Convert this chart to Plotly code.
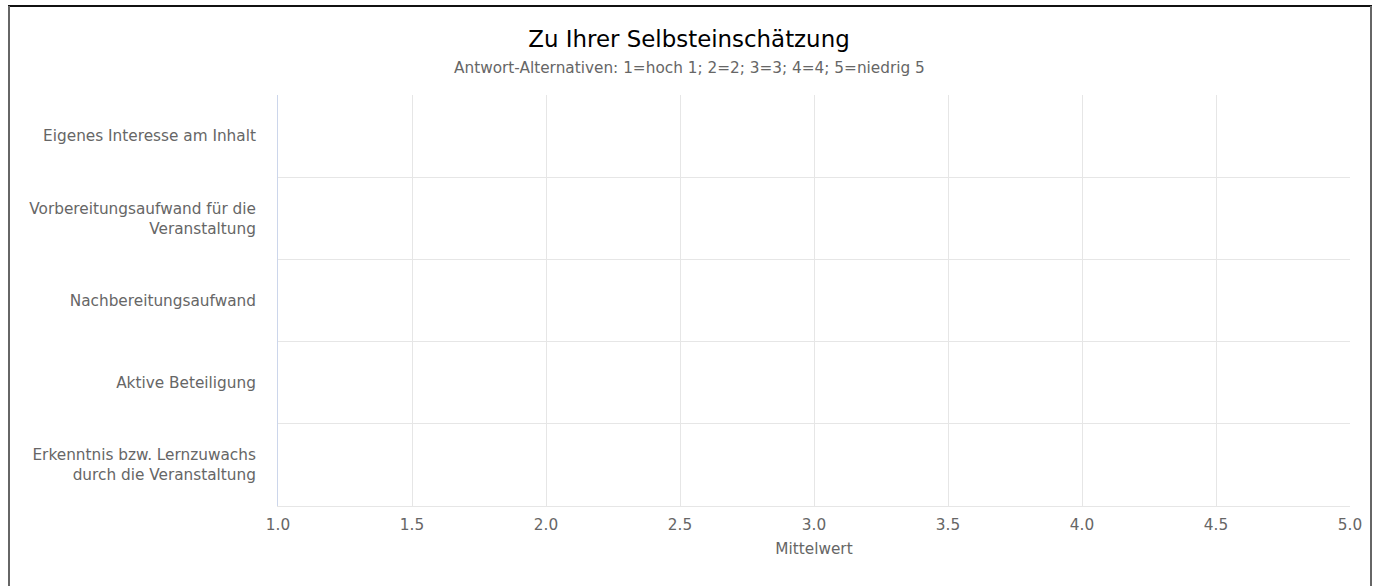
import plotly.graph_objects as go

categories = [
    "Eigenes Interesse am Inhalt",
    "Vorbereitungsaufwand für die<br>Veranstaltung",
    "Nachbereitungsaufwand",
    "Aktive Beteiligung",
    "Erkenntnis bzw. Lernzuwachs<br>durch die Veranstaltung",
]
means = [None, None, None, None, None]
x_ticks = [1.0, 1.5, 2.0, 2.5, 3.0, 3.5, 4.0, 4.5, 5.0]

W, H = 1377, 586
L, R, T, B = 278, 27, 95, 80
pw, ph = W - L - R, H - T - B


def px(x):
    return (x - L) / pw


def py(y):
    return 1 - (y - T) / ph


fig = go.Figure()
fig.add_trace(go.Bar(y=categories, x=means, orientation="h", marker_color="#7cb5ec", showlegend=False))

font = "DejaVu Sans, sans-serif"
fs = 15.3
fig.update_layout(
    width=W, height=H,
    margin=dict(l=L, r=R, t=T, b=B),
    paper_bgcolor="white", plot_bgcolor="white",
    font=dict(family=font, color="#666666", size=fs),
    title=dict(text="Zu Ihrer Selbsteinschätzung", x=689 / W, xref="container", xanchor="center",
               y=1 - 38.5 / H, yref="container", yanchor="middle",
               font=dict(size=22.9, color="#000000", family=font)),
    xaxis=dict(range=[1, 5], tickvals=x_ticks, ticktext=[f"{v:.1f}" for v in x_ticks],
               showgrid=True, gridcolor="#e6e6e6", gridwidth=1, zeroline=False,
               showline=True, linecolor="#e6e6e6", linewidth=1,
               ticks="", ticklabelstandoff=5,
               tickfont=dict(size=fs, color="#666666"),
               title=dict(text="Mittelwert", font=dict(size=fs, color="#666666"), standoff=9)),
    yaxis=dict(type="category", categoryorder="array", categoryarray=categories,
               range=[4.5, -0.5], tickson="boundaries",
               showgrid=True, gridcolor="#e6e6e6", gridwidth=1, zeroline=False,
               showline=True, linecolor="#ccd6eb", linewidth=1,
               ticks="", ticklabelstandoff=18,
               tickfont=dict(size=fs, color="#666666")),
    annotations=[dict(text="Antwort-Alternativen: 1=hoch 1; 2=2; 3=3; 4=4; 5=niedrig 5",
                      xref="paper", yref="paper", x=px(689), y=py(68),
                      xanchor="center", yanchor="middle", showarrow=False,
                      font=dict(size=fs, color="#666666", family=font))],
    shapes=[
        dict(type="line", xref="paper", yref="paper", x0=px(8), x1=px(1372),
             y0=py(6), y1=py(6), line=dict(color="#111111", width=2)),
        dict(type="line", xref="paper", yref="paper", x0=px(9), x1=px(9),
             y0=py(590), y1=py(6), line=dict(color="#666666", width=2)),
        dict(type="line", xref="paper", yref="paper", x0=px(1371), x1=px(1371),
             y0=py(590), y1=py(6), line=dict(color="#666666", width=2)),
    ],
)

fig.write_html(
    "out.html",
    config={"displayModeBar": False},
    post_script="document.body.style.margin='0';document.body.style.overflow='hidden';",
)
